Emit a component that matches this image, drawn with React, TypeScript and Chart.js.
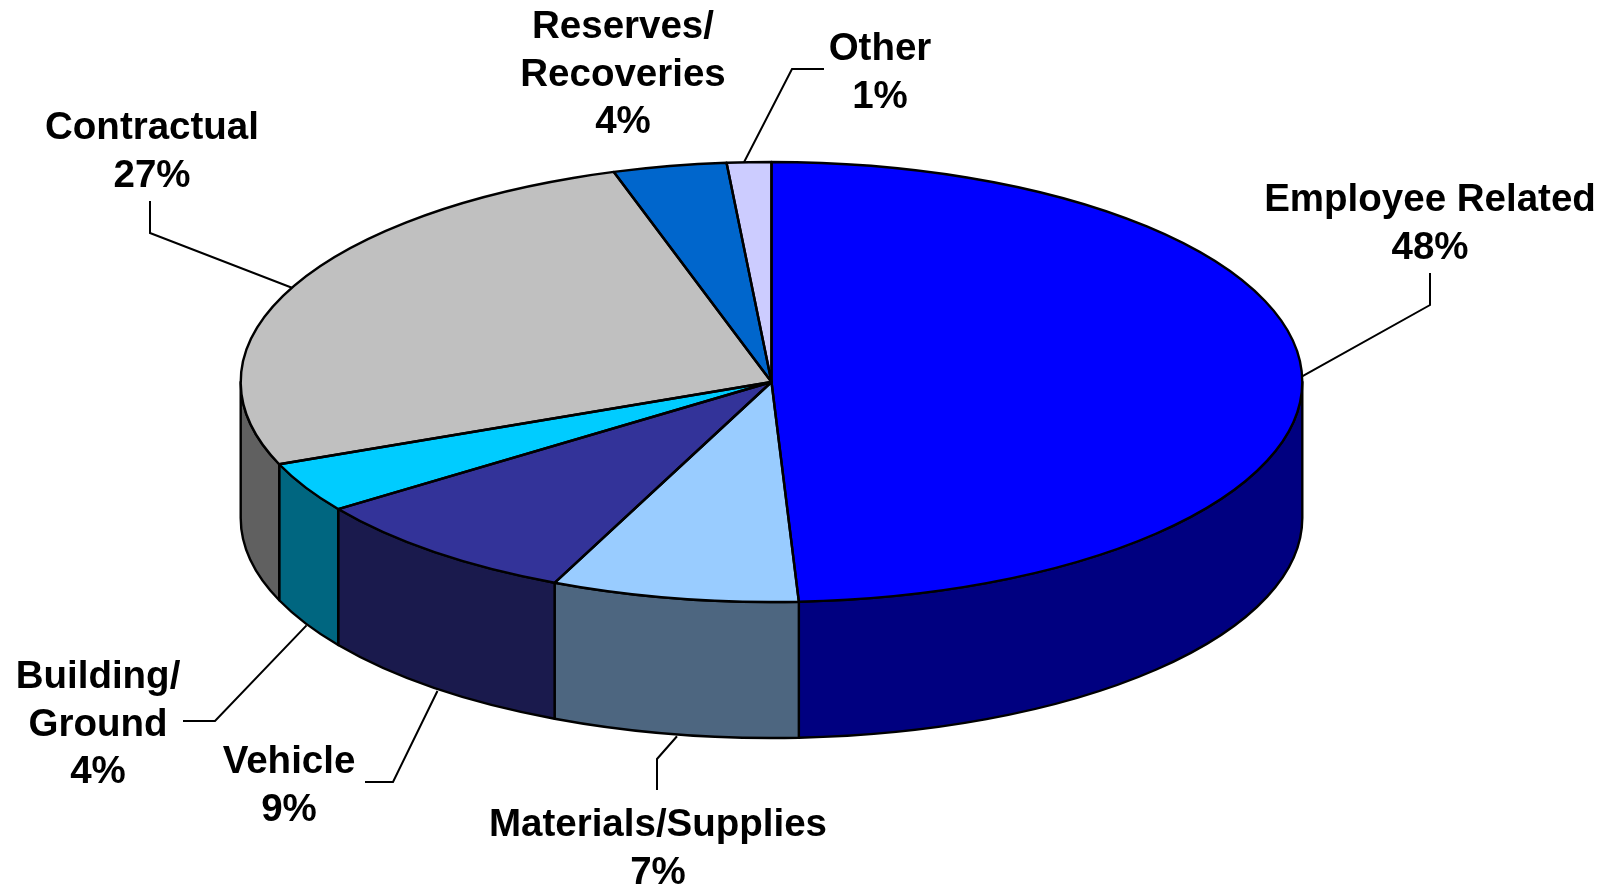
import React, { useEffect, useRef } from "react";
import { Chart, registerables } from "chart.js";

Chart.register(...registerables);

const categories = ["Employee Related", "Materials/Supplies", "Vehicle", "Building/Ground", "Contractual", "Reserves/Recoveries", "Other"];
// slice sizes as they are drawn in the picture (measured from the slice boundaries)
const sliceShares = [49.18, 7.52, 8.5, 3.7, 26.3, 3.45, 1.35];
const percentLabels = ["48%", "7%", "9%", "4%", "27%", "4%", "1%"];
const labelLines = [
  ["Employee Related"],
  ["Materials/Supplies"],
  ["Vehicle"],
  ["Building/", "Ground"],
  ["Contractual"],
  ["Reserves/", "Recoveries"],
  ["Other"],
];
const topColors = ["#0000FF", "#99CCFF", "#333399", "#00CCFF", "#C0C0C0", "#0066CC", "#CCCCFF"];
const wallColors = ["#000080", "#4D6680", "#1A1A4D", "#006680", "#606060", "#003366", "#666680"];

// layout: text centre x, first baseline y, leader elbow, leader end, leader start nudge
const labelX = [1430, 658, 289, 98, 152, 623, 880];
const labelY = [211, 836, 773, 688, 139, 38, 60];
const elbows: (number[] | null)[] = [[1430, 305], [657, 759], [393, 782], [215, 721], [150, 233], null, [792, 69]];
const leaderEnds: (number[] | null)[] = [[1430, 273], [657, 790], [365, 782], [183, 721], [150, 201], null, [824, 69]];
const anchorNudge = [[0, 0], [3, 2], [3, 3], [1, 2], [0, 0], [0, 0], [-5, 0]];

const RX = 530.8;
const RY = 220;
const DEPTH = 136;
const LINE_HEIGHT = 47.5;
const FONT = 'bold 38.5px "Liberation Sans", Arial, sans-serif';

const pie3d = {
  id: "pie3d",
  beforeDatasetsDraw(chart: any) {
    const ctx = chart.ctx;
    const arcs = chart.getDatasetMeta(0).data;
    ctx.save();
    ctx.lineWidth = 2.4;
    ctx.strokeStyle = "#000";
    ctx.lineJoin = "round";
    arcs.forEach((el: any, i: number) => {
      const a = Math.max(el.startAngle, 0);
      const b = Math.min(el.endAngle, Math.PI);
      if (a >= b) return;
      ctx.beginPath();
      ctx.ellipse(el.x, el.y, RX, RY, 0, a, b);
      ctx.ellipse(el.x, el.y + DEPTH, RX, RY, 0, b, a, true);
      ctx.closePath();
      ctx.fillStyle = wallColors[i];
      ctx.fill();
      ctx.stroke();
    });
    ctx.restore();
  },
  beforeDatasetDraw(chart: any) {
    const ctx = chart.ctx;
    const el = chart.getDatasetMeta(0).data[0];
    ctx.save();
    ctx.translate(el.x, el.y);
    ctx.scale(1, RY / RX);
    ctx.translate(-el.x, -el.y);
  },
  afterDatasetDraw(chart: any) {
    const ctx = chart.ctx;
    ctx.restore();
    const arcs = chart.getDatasetMeta(0).data;
    ctx.save();
    ctx.lineWidth = 2.4;
    ctx.strokeStyle = "#000";
    ctx.lineJoin = "round";
    arcs.forEach((el: any) => {
      ctx.beginPath();
      ctx.moveTo(el.x, el.y);
      ctx.ellipse(el.x, el.y, RX, RY, 0, el.startAngle, el.endAngle);
      ctx.closePath();
      ctx.stroke();
    });
    ctx.restore();
  },
  afterDatasetsDraw(chart: any) {
    const ctx = chart.ctx;
    const arcs = chart.getDatasetMeta(0).data;
    ctx.save();
    ctx.lineWidth = 2;
    ctx.strokeStyle = "#000";
    arcs.forEach((el: any, i: number) => {
      const elbow = elbows[i];
      const end = leaderEnds[i];
      if (!elbow || !end) return;
      const mid = (el.startAngle + el.endAngle) / 2;
      const s = Math.sin(mid);
      const ax = el.x + RX * Math.cos(mid) + anchorNudge[i][0];
      const ay = el.y + RY * s + (s > 0.05 ? DEPTH : 0) + anchorNudge[i][1];
      ctx.beginPath();
      ctx.moveTo(ax, ay);
      ctx.lineTo(elbow[0], elbow[1]);
      ctx.lineTo(end[0], end[1]);
      ctx.stroke();
    });
    ctx.font = FONT;
    ctx.fillStyle = "#000";
    ctx.textAlign = "center";
    ctx.textBaseline = "alphabetic";
    categories.forEach((_, i) => {
      const lines = [...labelLines[i], percentLabels[i]];
      lines.forEach((t, j) => ctx.fillText(t, labelX[i], labelY[i] + j * LINE_HEIGHT));
    });
    ctx.restore();
  },
};

export default function App() {
  const ref = useRef<HTMLCanvasElement>(null);
  useEffect(() => {
    const chart = new Chart(ref.current!, {
      type: "pie",
      data: {
        labels: categories,
        datasets: [{ data: sliceShares, backgroundColor: topColors, borderWidth: 0 }],
      },
      options: {
        animation: false,
        responsive: false,
        radius: RX,
        layout: { padding: { left: 0, top: 0, right: 71, bottom: 122 } },
        plugins: { legend: { display: false }, tooltip: { enabled: false } },
      } as any,
      plugins: [pie3d],
    });
    return () => chart.destroy();
  }, []);
  return (
    <div style={{ position: "fixed", left: 0, top: 0, width: 1614, height: 886, background: "#fff" }}>
      <canvas ref={ref} width={1614} height={886} style={{ display: "block" }} />
    </div>
  );
}
